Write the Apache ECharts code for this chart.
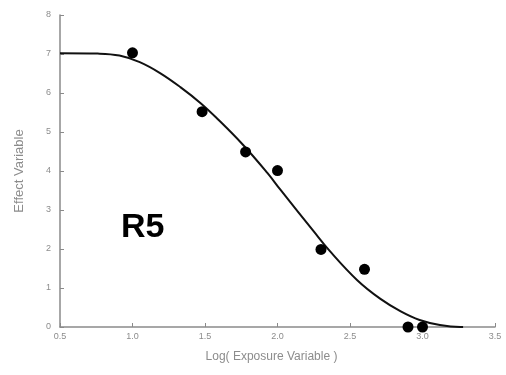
<!DOCTYPE html>
<html><head><meta charset="utf-8">
<script src="https://cdn.jsdelivr.net/npm/echarts@6/dist/echarts.min.js"></script>
<style>html,body{margin:0;padding:0;background:#fff}#c{width:506px;height:375px}</style>
</head><body><div id="c"></div>
<script>
// Observed data points (log exposure, effect)
const pointX = [1.0, 1.48, 1.78, 2.0, 2.3, 2.6, 2.9, 3.0];
const pointY = [7.03, 5.52, 4.49, 4.01, 1.99, 1.48, 0, 0];
// Fitted curve
const curveX = [0.5, 0.76, 0.91, 1.05, 1.19, 1.33, 1.47, 1.58, 1.76, 1.93, 2.02, 2.25, 2.36, 2.55, 2.71, 2.85, 2.98, 3.12, 3.26, 3.28];
const curveY = [7.02, 7.01, 6.96, 6.79, 6.51, 6.15, 5.74, 5.36, 4.68, 3.95, 3.52, 2.45, 1.95, 1.2, 0.72, 0.40, 0.18, 0.05, 0.0, 0];
const xTicks = [0.5, 1.0, 1.5, 2.0, 2.5, 3.0, 3.5];
const yTicks = [0, 1, 2, 3, 4, 5, 6, 7, 8];
const xTitle = 'Log( Exposure Variable )';
const yTitle = 'Effect Variable';
const label = 'R5';

const chart = echarts.init(document.getElementById('c'), null, {renderer: 'canvas'});
const axisCol = '#8a8a8a';
const txtCol = '#8c8c8c';
chart.setOption({
  animation: false,
  grid: {left: 60, right: 11, top: 15, bottom: 48},
  xAxis: {
    type: 'value', min: xTicks[0], max: xTicks[xTicks.length - 1], interval: 0.5,
    splitLine: {show: false},
    axisLine: {onZero: false, lineStyle: {color: axisCol, width: 1.5}},
    axisTick: {inside: true, length: 4, lineStyle: {color: axisCol}},
    axisLabel: {color: txtCol, fontSize: 9, fontFamily: 'Liberation Sans', margin: 5,
      formatter: v => v.toFixed(1)},
    name: xTitle, nameLocation: 'middle', nameGap: 24,
    nameTextStyle: {color: txtCol, fontSize: 12, fontFamily: 'Liberation Sans', padding: [0, 0, 0, -12]}
  },
  yAxis: {
    type: 'value', min: yTicks[0], max: yTicks[yTicks.length - 1], interval: 1,
    splitLine: {show: false},
    axisLine: {onZero: false, lineStyle: {color: axisCol, width: 1.5}},
    axisTick: {inside: true, length: 4, lineStyle: {color: axisCol}},
    axisLabel: {color: txtCol, fontSize: 9, fontFamily: 'Liberation Sans', margin: 9},
    name: yTitle, nameLocation: 'middle', nameGap: 34, nameRotate: 90,
    nameTextStyle: {color: txtCol, fontSize: 13, fontFamily: 'Liberation Sans'}
  },
  graphic: [{
    type: 'text', left: 121, top: 211,
    style: {text: label, fill: '#000', font: 'bold 34px "Liberation Sans", Arial, sans-serif'}
  }],
  series: [
    {type: 'line', data: curveX.map((x, i) => [x, curveY[i]]), smooth: 0.4,
     showSymbol: false, lineStyle: {color: '#111', width: 2}, z: 2},
    {type: 'scatter', data: pointX.map((x, i) => [x, pointY[i]]), symbolSize: 11,
     itemStyle: {color: '#000', opacity: 1}, z: 3}
  ]
});
</script></body></html>
